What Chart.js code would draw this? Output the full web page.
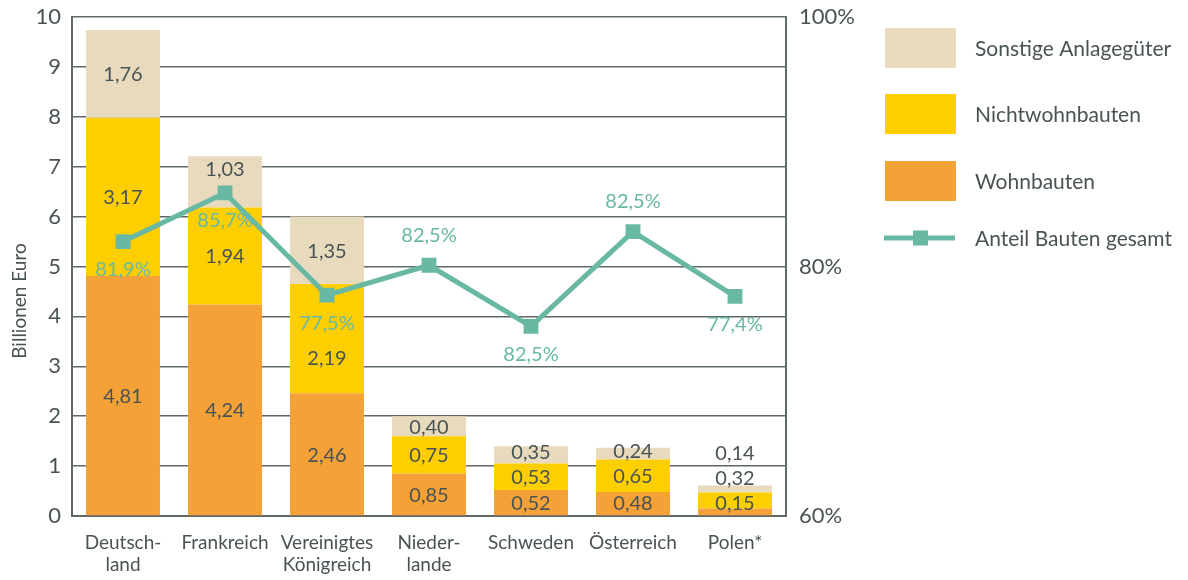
<!DOCTYPE html>
<html>
<head>
<meta charset="utf-8">
<script src="https://cdn.jsdelivr.net/npm/chart.js@4"></script>
<style>
  html, body { margin: 0; padding: 0; background: #fff; }
  #wrap { width: 1188px; height: 580px; }
</style>
</head>
<body>
<div id="wrap"><canvas id="chart"></canvas></div>
<script>
// Data (Billionen Euro, Anteil in %)
const countries = [['Deutsch-', 'land'], 'Frankreich', ['Vereinigtes', 'Königreich'], ['Nieder-', 'lande'], 'Schweden', 'Österreich', 'Polen*'];
const wohnbauten = [4.81, 4.24, 2.46, 0.85, 0.52, 0.48, 0.15];
const nichtwohnbauten = [3.17, 1.94, 2.19, 0.75, 0.53, 0.65, 0.32];
const sonstige = [1.76, 1.03, 1.35, 0.40, 0.35, 0.24, 0.14];
// where the markers sit in the original vs. what is printed next to them (they differ there)
const anteilPlotted = [82.0, 85.9, 77.7, 80.1, 75.2, 82.8, 77.6];
const anteilLabels = ['81,9%', '85,7%', '77,5%', '82,5%', '82,5%', '82,5%', '77,4%'];
const rightTicks = [60, 80, 100];

const TEXT = '#4a5354';
const AXIS = '#5f6869';
const TEAL = '#68b8a3';
const FONT = "Lato, 'Open Sans', sans-serif";
const LABEL_ABOVE = [false, false, false, true, false, true, false];

const fmt = v => v.toFixed(2).replace('.', ',');

// y of the percent label for category i
function pctLabelY(pt, i) {
  return pt.y + (LABEL_ABOVE[i] ? -30 : 28);
}

/** Value labels inside the stacked bars */
const barLabels = {
  id: 'barLabels',
  afterDatasetsDraw(chart) {
    const ctx = chart.ctx;
    const line = chart.getDatasetMeta(3).data;
    ctx.save();
    ctx.font = '20px ' + FONT;
    ctx.fillStyle = TEXT;
    ctx.textAlign = 'center';
    ctx.textBaseline = 'middle';
    countries.forEach((c, i) => {
      let prev = null;
      const mk = line[i].y;
      const pl = pctLabelY(line[i], i);
      [0, 1, 2].forEach(d => {
        const el = chart.getDatasetMeta(d).data[i];
        const val = chart.data.datasets[d].data[i];
        let y = (el.y + el.base) / 2;
        if (prev === null) y = Math.min(y, el.base - 13);
        else y = Math.min(y, prev - 25);
        // keep clear of the marker and the percent label
        if (Math.abs(y - mk) < 16) y = y < mk ? mk - 24 : mk + 24;
        else if (Math.abs(y - pl) < 24) y = y < pl ? pl - 34 : pl + 34;
        ctx.fillText(fmt(val), el.x, y + 1);
        prev = y;
      });
    });
    ctx.restore();
  }
};

/** Percent labels next to the line markers */
const lineLabels = {
  id: 'lineLabels',
  afterDatasetsDraw(chart) {
    const ctx = chart.ctx;
    const meta = chart.getDatasetMeta(3);
    ctx.save();
    ctx.font = '20px ' + FONT;
    ctx.fillStyle = TEAL;
    ctx.textAlign = 'center';
    ctx.textBaseline = 'middle';
    meta.data.forEach((pt, i) => {
      ctx.fillText(anteilLabels[i], pt.x, pctLabelY(pt, i));
    });
    ctx.restore();
  }
};

/** Legend on the right + left axis title */
const sideLegend = {
  id: 'sideLegend',
  afterDraw(chart) {
    const ctx = chart.ctx;
    const ds = chart.data.datasets;
    const items = [
      { ds: ds[2], y: 48 },
      { ds: ds[1], y: 114 },
      { ds: ds[0], y: 181 },
      { ds: ds[3], y: 238, line: true }
    ];
    ctx.save();
    ctx.font = '21px ' + FONT;
    ctx.textBaseline = 'middle';
    items.forEach(it => {
      if (it.line) {
        ctx.strokeStyle = TEAL;
        ctx.lineWidth = 5;
        ctx.beginPath();
        ctx.moveTo(884, it.y);
        ctx.lineTo(955, it.y);
        ctx.stroke();
        ctx.fillStyle = TEAL;
        ctx.fillRect(913, it.y - 7.5, 15, 15);
      } else {
        ctx.fillStyle = it.ds.backgroundColor;
        ctx.fillRect(885, it.y - 20, 71, 40);
      }
      ctx.fillStyle = TEXT;
      ctx.fillText(it.ds.label, 975, it.y + 1);
    });

    // y axis title
    ctx.translate(20, 301);
    ctx.rotate(-Math.PI / 2);
    ctx.font = '19px ' + FONT;
    ctx.textAlign = 'center';
    ctx.fillText('Billionen Euro', 0, 0);
    ctx.restore();
  }
};

const tickFont = { family: FONT, size: 22 };

new Chart(document.getElementById('chart'), {
  type: 'bar',
  data: {
    labels: countries,
    datasets: [
      { label: 'Wohnbauten', data: wohnbauten, backgroundColor: '#f4a137', order: 2, yAxisID: 'y' },
      { label: 'Nichtwohnbauten', data: nichtwohnbauten, backgroundColor: '#fecf00', order: 2, yAxisID: 'y' },
      { label: 'Sonstige Anlagegüter', data: sonstige, backgroundColor: '#e8dabd', order: 2, yAxisID: 'y' },
      {
        type: 'line',
        label: 'Anteil Bauten gesamt',
        data: anteilPlotted,
        yAxisID: 'y1',
        order: 1,
        borderColor: TEAL,
        borderWidth: 5,
        pointStyle: 'rect',
        pointRadius: 10.5,
        pointBackgroundColor: TEAL,
        pointBorderWidth: 0,
        tension: 0
      }
    ]
  },
  options: {
    responsive: true,
    maintainAspectRatio: false,
    animation: false,
    layout: { padding: { top: 17, bottom: 0, left: 0, right: 0 } },
    datasets: { bar: { barPercentage: 0.725, categoryPercentage: 1 } },
    plugins: {
      legend: { display: false },
      tooltip: { enabled: false }
    },
    scales: {
      x: {
        stacked: true,
        grid: { display: false },
        border: { display: true, color: AXIS, width: 2 },
        ticks: { color: TEXT, font: { family: FONT, size: 19 }, padding: 7, maxRotation: 0, autoSkip: false },
        afterFit: s => { s.height = 64; }
      },
      y: {
        stacked: true,
        min: 0,
        max: 10,
        ticks: { stepSize: 1, color: TEXT, font: tickFont, padding: 11 },
        grid: { color: AXIS, lineWidth: 1.5, drawTicks: false },
        border: { display: true, color: AXIS, width: 2 },
        afterFit: s => { s.width = 72; s.paddingTop = 0; s.paddingBottom = 0; }
      },
      y1: {
        position: 'right',
        min: 60,
        max: 100,
        afterBuildTicks: s => { s.ticks = rightTicks.map(v => ({ value: v })); },
        ticks: { color: TEXT, font: tickFont, padding: 13, callback: v => v + '%' },
        grid: { display: false, drawTicks: false },
        border: { display: true, color: AXIS, width: 2 },
        afterFit: s => { s.width = 402; s.paddingTop = 0; s.paddingBottom = 0; }
      }
    }
  },
  plugins: [barLabels, lineLabels, sideLegend]
});
</script>
</body>
</html>
